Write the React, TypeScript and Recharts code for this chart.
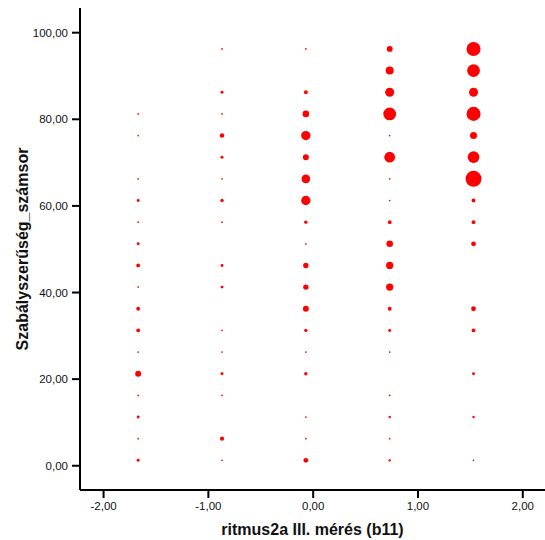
import React from "react";
import { ScatterChart, Scatter, XAxis, YAxis, ZAxis } from "recharts";

// x positions of the five columns (ritmus2a III. mérés)
const xColumns = [-1.67, -0.87, -0.07, 0.73, 1.53];
// y rows (Szabályszerűség_számsor)
const yRows = [1.25, 6.25, 11.25, 16.25, 21.25, 26.25, 31.25, 36.25, 41.25, 46.25, 51.25, 56.25, 61.25, 66.25, 71.25, 76.25, 81.25, 86.25, 91.25, 96.25];

// bubble counts per row (bottom to top) for each column
const col1 = [3, 1, 3, 1, 12, 1, 5, 5, 1, 5, 3, 1, 3, 1, 0, 1, 1, 0, 0, 0];
const col2 = [1, 6, 0, 1, 3, 1, 1, 0, 3, 3, 0, 1, 4, 1, 3, 7, 1, 3, 0, 1];
const col3 = [8, 1, 1, 0, 4, 1, 4, 12, 10, 10, 1, 4, 30, 26, 12, 30, 15, 5, 0, 1];
const col4 = [2, 1, 2, 1, 0, 1, 3, 5, 18, 18, 15, 5, 1, 1, 40, 1, 56, 28, 22, 12];
const col5 = [1, 0, 2, 0, 3, 0, 5, 8, 0, 0, 8, 5, 5, 88, 47, 17, 68, 28, 56, 68];

const columns = [col1, col2, col3, col4, col5];

const xTicks = [-2, -1, 0, 1, 2];
const yTicks = [0, 20, 40, 60, 80, 100];

const points: { x: number; y: number; z: number }[] = [];
columns.forEach((col, ci) => {
  col.forEach((c, ri) => {
    if (c > 0) points.push({ x: xColumns[ci], y: yRows[ri], z: c });
  });
});

const fmt = (v: number) => v.toFixed(2).replace(".", ",");
const font = "Liberation Sans, Arial, sans-serif";

export default function App() {
  return (
    <div style={{ position: "absolute", left: 0, top: 0, background: "#fff" }}>
      <ScatterChart width={545} height={540} margin={{ top: 8, right: 0, bottom: 0, left: 0 }}>
        <XAxis
          type="number"
          dataKey="x"
          domain={[-2.225, 2.212]}
          ticks={xTicks}
          tickFormatter={fmt}
          allowDataOverflow
          height={50}
          tickSize={8}
          tickMargin={4}
          axisLine={{ stroke: "#000", strokeWidth: 2 }}
          tickLine={{ stroke: "#000", strokeWidth: 2 }}
          tick={{ fill: "#111", fontSize: 11.5, fontFamily: font }}
          label={{
            value: "ritmus2a III. mérés (b11)",
            position: "center",
            dy: 14,
            style: { fontSize: 16, fontWeight: "bold", fontFamily: font, fill: "#111" },
          }}
        />
        <XAxis
          xAxisId="top"
          orientation="top"
          type="number"
          domain={[-2.225, 2.212]}
          height={0}
          tick={false}
          tickLine={false}
          axisLine={{ stroke: "#000", strokeWidth: 2 }}
        />
        <YAxis
          type="number"
          dataKey="y"
          domain={[-5.6, 105.7]}
          ticks={yTicks}
          tickFormatter={fmt}
          allowDataOverflow
          width={80}
          tickSize={8}
          tickMargin={4}
          axisLine={{ stroke: "#000", strokeWidth: 2 }}
          tickLine={{ stroke: "#000", strokeWidth: 2 }}
          tick={{ fill: "#111", fontSize: 11.5, fontFamily: font }}
          label={{
            value: "Szabályszerűség_számsor",
            angle: -90,
            position: "center",
            dx: -18,
            style: { fontSize: 16, fontWeight: "bold", fontFamily: font, fill: "#111", textAnchor: "middle" },
          }}
        />
        <ZAxis type="number" dataKey="z" domain={[0, 88]} range={[0, 200]} />
        <Scatter data={points} fill="#ff0000" shape="circle" isAnimationActive={false} />
      </ScatterChart>
    </div>
  );
}
